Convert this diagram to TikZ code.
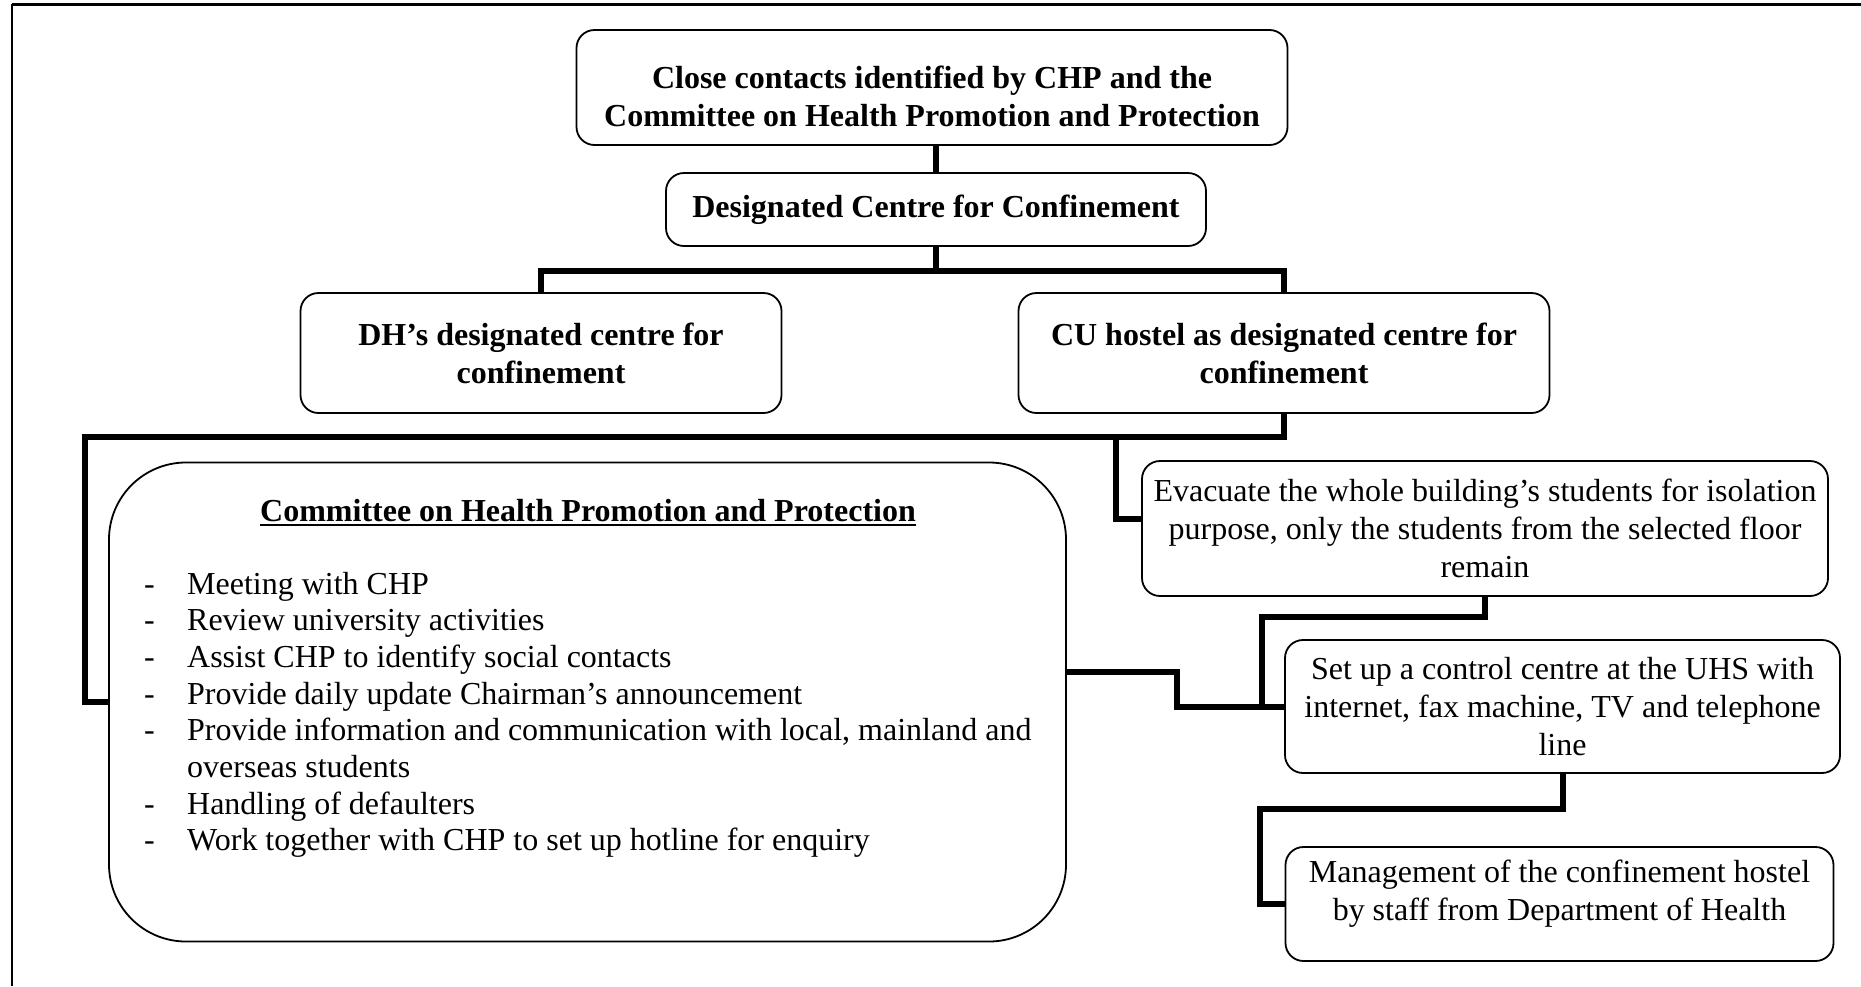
\documentclass[tikz,border=0pt]{standalone}
\usepackage{fontspec}
\setmainfont{Liberation Serif}
\newcommand\myuline[1]{\setbox0\hbox{#1}\rlap{\rule[-5pt]{\wd0}{2.5pt}}\box0}
\begin{document}
\begin{tikzpicture}[x=1pt,y=-1pt,
  txt/.style={font=\fontsize{32}{38}\selectfont, inner sep=0pt},
  box/.style={txt, draw, line width=1.8pt, rounded corners=18pt, align=center},
  bbox/.style={box, font=\fontsize{32}{38}\selectfont\bfseries},
  conn/.style={line width=6pt, line join=miter},
  item/.style={txt, anchor=base west}]
\useasboundingbox (0,0) rectangle (1861,986);
% frame
\draw[line width=3pt] (12,4) -- (1861,4);
\draw[line width=2pt] (12,4) -- (12,986);

\node[bbox, minimum width=711pt, minimum height=115pt] (top) at (932,87.5)
  {\rule{0pt}{40pt}Close contacts identified by CHP and the\\Committee on Health Promotion and Protection};
\node[bbox, minimum width=540pt, minimum height=73pt] (dcc) at (936,209.5)
  {Designated Centre for Confinement};
\node[bbox, minimum width=481pt, minimum height=120pt] (dh) at (541,353)
  {DH’s designated centre for\\confinement};
\node[bbox, minimum width=531pt, minimum height=120pt] (cu) at (1284,353)
  {CU hostel as designated centre for\\confinement};

\node[draw, line width=1.8pt, rounded corners=77pt, minimum width=957pt, minimum height=479pt, inner sep=0pt] (comm) at (587.5,702) {};
\node[txt, font=\fontsize{32}{38}\selectfont\bfseries, anchor=base] (ctitle) at (588,521)
  {\myuline{Committee on Health Promotion and Protection}};
\node[item] (l1) at (144,594) {\makebox[43pt][l]{-}Meeting with CHP};
\node[item] (l2) at (144,630.7) {\makebox[43pt][l]{-}Review university activities};
\node[item] (l3) at (144,667.4) {\makebox[43pt][l]{-}Assist CHP to identify social contacts};
\node[item] (l4) at (144,704.1) {\makebox[43pt][l]{-}Provide daily update Chairman’s announcement};
\node[item] (l5) at (144,740.8) {\makebox[43pt][l]{-}Provide information and communication with local, mainland and};
\node[item] (l6) at (187,777.5) {overseas students};
\node[item] (l7) at (144,814.2) {\makebox[43pt][l]{-}Handling of defaulters};
\node[item] (l8) at (144,850.9) {\makebox[43pt][l]{-}Work together with CHP to set up hotline for enquiry};

\node[box, minimum width=686pt, minimum height=135pt] (evac) at (1485,528.5)
  {Evacuate the whole building’s students for isolation\\purpose, only the students from the selected floor\\remain};
\node[box, minimum width=555pt, minimum height=133pt] (setup) at (1562.5,706.5)
  {Set up a control centre at the UHS with\\internet, fax machine, TV and telephone\\line};
\node[box, minimum width=548pt, minimum height=114pt] (mgmt) at (1559.5,904)
  {Management of the confinement hostel\\by staff from Department of Health\rule[-27pt]{0pt}{0pt}};

% connectors
\coordinate (h0) at (936,271);
\coordinate (a1) at (85,437);
\coordinate (a2) at (85,702);
\coordinate (b1) at (1116,437);
\coordinate (b2) at (1142,519);
\coordinate (c1) at (1262,617);
\coordinate (d1) at (1177,672);
\coordinate (e1) at (1260,809);

\draw[conn] (top.south -| dcc.north) -- (dcc.north);
\draw[conn] (dcc.south) -- (h0);
\draw[conn] (h0) -| (dh.north);
\draw[conn] (h0) -| (cu.north);
\draw[conn] (cu.south) |- (a1) -- (a2) -- (a2 -| comm.west);
\draw[conn] (b1) |- (b2 -| evac.west);
\draw[conn] (evac.south) |- (c1) |- (setup.west);
\draw[conn] (comm.east |- d1) -- (d1) |- (setup.west);
\draw[conn] (setup.south) |- (e1) |- (mgmt.west);
\end{tikzpicture}
\end{document}
